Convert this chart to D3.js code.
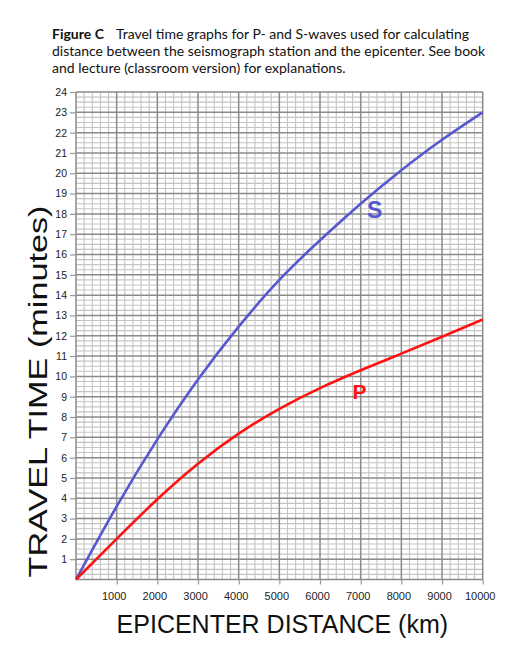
<!DOCTYPE html>
<html><head><meta charset="utf-8">
<script src="https://cdn.jsdelivr.net/npm/d3@7"></script>
<style>body{margin:0;background:#fff}</style>
</head><body><svg id="c" width="520" height="656"></svg>
<script>
const distances = [0, 1000, 2000, 3000, 4000, 5000, 6000, 7000, 8000, 9000, 10000];
const sWave = [0, 3.6, 6.9, 9.85, 12.45, 14.75, 16.7, 18.5, 20.15, 21.65, 23.0];
const pWave = [0, 2.0, 3.95, 5.7, 7.18, 8.4, 9.42, 10.3, 11.12, 11.95, 12.8];
const xTicks = [1000, 2000, 3000, 4000, 5000, 6000, 7000, 8000, 9000, 10000];
const yTicks = d3.range(1, 25);
const titleBold = "Figure C";
const titleLines = [
  "Travel time graphs for P- and S-waves used for calculating",
  "distance between the seismograph station and the epicenter. See book",
  "and lecture (classroom version) for explanations."
];
const xTitle = "EPICENTER DISTANCE (km)";
const yTitle = "TRAVEL TIME (minutes)";

const svg = d3.select("#c");
const x = d3.scaleLinear().domain([0, 10000]).range([76, 482.7]);
const y = d3.scaleLinear().domain([0, 24]).range([579.5, 92]);

// title
const tf = "Lato, 'Open Sans', sans-serif";
const t = svg.append("text").attr("x", 52).attr("y", 39).attr("font-family", tf).attr("font-size", 14).attr("fill", "#111");
t.append("tspan").attr("font-weight", "bold").text(titleBold);
t.append("tspan").attr("dx", 12).text(titleLines[0]);
titleLines.slice(1).forEach((l, i) => {
  svg.append("text").attr("x", 52).attr("y", 56 + i * 17).attr("font-family", tf).attr("font-size", 14).attr("fill", "#111").text(l);
});

// grid
const g = svg.append("g");
const minorX = d3.range(0, 10001, 200).filter(d => d % 1000 !== 0);
const minorY = d3.range(0, 24.001, 0.25).filter(d => Math.abs(d - Math.round(d)) > 1e-6);
g.selectAll(".mx").data(minorX).join("line")
  .attr("x1", d => x(d)).attr("x2", d => x(d)).attr("y1", y(0)).attr("y2", y(24))
  .attr("stroke", "#c4c4c4").attr("stroke-width", 1.1);
g.selectAll(".my").data(minorY).join("line")
  .attr("y1", d => y(d)).attr("y2", d => y(d)).attr("x1", x(0)).attr("x2", x(10000))
  .attr("stroke", "#c4c4c4").attr("stroke-width", 1.1);
g.selectAll(".Mx").data(d3.range(0, 10001, 1000)).join("line")
  .attr("x1", d => x(d)).attr("x2", d => x(d)).attr("y1", y(0)).attr("y2", y(24))
  .attr("stroke", "#8a8a8a").attr("stroke-width", 1.5);
g.selectAll(".My").data(d3.range(0, 25, 1)).join("line")
  .attr("y1", d => y(d)).attr("y2", d => y(d)).attr("x1", x(0)).attr("x2", x(10000))
  .attr("stroke", "#8a8a8a").attr("stroke-width", 1.5);

// axes
const ya = svg.append("g").attr("transform", `translate(${x(0)},0)`)
  .call(d3.axisLeft(y).tickValues(yTicks).tickSize(6).tickPadding(3).tickFormat(d3.format("d")));
ya.select(".domain").remove();
ya.selectAll(".tick line").attr("stroke", "#999").attr("stroke-width", 1.2);
ya.selectAll("text").attr("font-family", "'Liberation Sans', Arial, sans-serif").attr("font-size", 10.5).attr("fill", "#222");

const xa = svg.append("g").attr("transform", `translate(0,${y(0)})`)
  .call(d3.axisBottom(x).tickValues(xTicks).tickSize(5).tickPadding(8).tickFormat(d3.format("d")));
xa.select(".domain").remove();
xa.selectAll(".tick line").attr("stroke", "#999").attr("stroke-width", 1.2);
xa.selectAll("text").attr("font-family", "'Liberation Sans', Arial, sans-serif").attr("font-size", 11).attr("fill", "#222").attr("dx", -3);

// curves
const line = d3.line().x((d, i) => x(distances[i])).y(d => y(d)).curve(d3.curveNatural);
svg.append("path").attr("d", line(sWave)).attr("fill", "none").attr("stroke", "#5757cf").attr("stroke-width", 2.6);
svg.append("path").attr("d", line(pWave)).attr("fill", "none").attr("stroke", "#ff1111").attr("stroke-width", 2.6);

// curve labels
svg.append("text").attr("x", 374.7).attr("y", 217.5).attr("text-anchor", "middle")
  .attr("font-family", "'Liberation Sans', Arial, sans-serif").attr("font-weight", "bold").attr("font-size", 23)
  .attr("fill", "#5757cf").text("S");
svg.append("text").attr("x", 359.5).attr("y", 398.5).attr("text-anchor", "middle")
  .attr("font-family", "'Liberation Sans', Arial, sans-serif").attr("font-weight", "bold").attr("font-size", 21)
  .attr("fill", "#ff1111").text("P");

// axis titles
svg.append("text").attr("x", (x(0) + x(10000)) / 2 + 3).attr("y", 633).attr("text-anchor", "middle")
  .attr("font-family", "'Liberation Sans', Arial, sans-serif").attr("font-size", 25).attr("fill", "#111").text(xTitle);
svg.append("text").attr("transform", "translate(47,391.5) rotate(-90)").attr("text-anchor", "middle")
  .attr("font-family", "'Liberation Sans', Arial, sans-serif").attr("font-size", 25.5)
  .attr("textLength", 372).attr("lengthAdjust", "spacingAndGlyphs")
  .attr("fill", "#111").text(yTitle);
</script>
</body></html>
